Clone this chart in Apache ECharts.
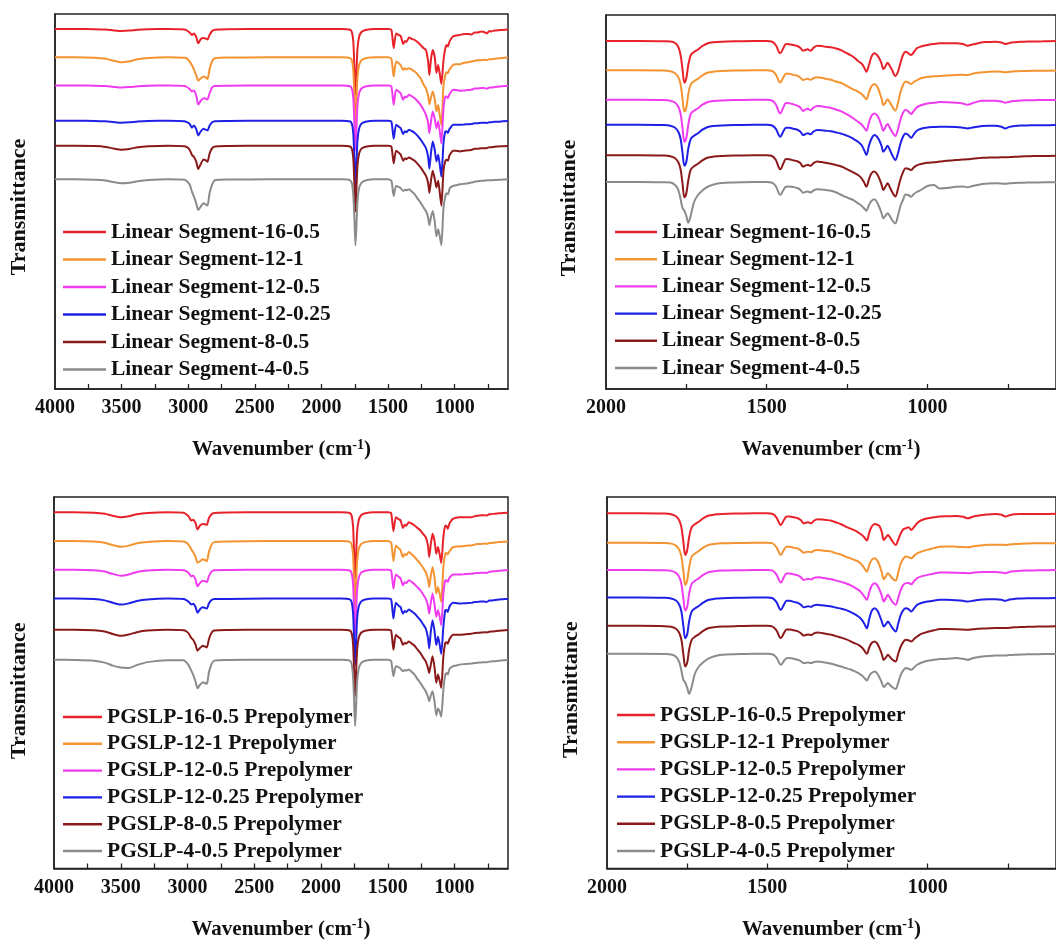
<!DOCTYPE html>
<html>
<head>
<meta charset="utf-8">
<script src="https://cdn.jsdelivr.net/npm/echarts@6/dist/echarts.min.js"></script>
<style>
  html, body { margin: 0; padding: 0; background: #fff; overflow: hidden; }
  #chart { width: 1056px; height: 941px; }
</style>
</head>
<body>
<div id="chart"></div>
<script>
// Wavenumber sampling (cm-1) for the full-range spectra
const WN_FULL = [4000,3850,3700,3620,3560,3500,3440,3380,3300,3150,
  3030,3010,2990,2972,2958,2940,2925,2905,2885,2870,
  2855,2840,2820,2800,2700,2400,2100,1850,1785,1770,
  1760,1752,1745,1738,1730,1718,1700,1670,1600,1500,
  1475,1458,1440,1420,1405,1387,1373,1363,1343,1320,
  1300,1280,1256,1235,1216,1200,1190,1178,1165,1150,
  1137,1124,1112,1100,1084,1070,1060,1051,1040,1033,
  1013,990,962,930,900,875,850,829,800,780,
  758,740,728,700,670,640,600];

// Wavenumber sampling (cm-1) for the 2000-600 fingerprint spectra
const WN_ZOOM = [2000,1900,1820,1800,1785,1775,1768,1762,1756,1750,
  1744,1736,1726,1714,1700,1685,1665,1640,1600,1540,
  1500,1485,1472,1458,1448,1440,1430,1418,1405,1395,
  1387,1380,1373,1363,1355,1343,1330,1317,1300,1287,
  1270,1256,1243,1231,1216,1206,1198,1190,1182,1174,
  1165,1157,1150,1143,1137,1130,1124,1117,1110,1100,
  1092,1084,1076,1068,1060,1051,1042,1033,1020,1000,
  980,962,940,911,890,875,860,845,829,810,
  789,770,758,745,728,710,690,670,640,600];

// Band depth below each trace's baseline (a.u.), linear segments, full range
const LS_16_05_FULL = [0,0,0.2,0.6,1.4,2,1.6,0.8,0.3,0,
  0.5,1.5,3.5,6,4.5,8,14.3,10,9,9.5,
  10.5,6,2,0.7,0.3,0,0,0,0.8,4,
  15,42,66,45,20,8,3,1,0,0,
  1,19,4.5,6,7,15,12,13,8.5,10,
  11,13,16,19,21,32,46,30,21,28,
  44,36,45,55,31,19,16,17.5,13,11,
  7.5,6.5,6,5,5,5.5,3.5,3.5,2.5,3,
  4.3,2,2.5,1.5,1.2,1,0.5];
const LS_12_1_FULL = [0,0,0.5,1.5,3.5,5,4,2,0.7,0,
  0.5,1,4,8,12,18,23.3,21,19.3,20,
  21.7,12,4,1,0.3,0,0,0,0.8,4,
  15,42,66,45,20,8,3,1,0,0,
  1.5,19.3,4.3,6,8,12.7,11,12,11,12.5,
  14.3,17,21,27,31,38,47,40,34.3,42,
  54.3,47.7,58,68,27.7,17.7,15,16,12.5,11,
  7.7,7,7,5.5,5,4.3,3.5,3,3,2.5,
  2.7,2,2,1.5,1,0.7,0.3];
const LS_12_05_FULL = [0,0,0.2,0.6,1.4,2,1.6,0.8,0.3,0,
  0.5,1.5,3.5,6,5,10,19,15,12.7,13,
  14,8,2,0.5,0.3,0,0,0,0.8,4,
  15,42,65,44,20,8,3,1,0,0,
  1,19.3,4.3,6,8,14.3,11,12,9.3,11,
  12.7,15.5,19.3,24,29.3,37,47.7,36,26,33,
  42.7,36,46,58,22.7,11,11,12.7,9,7.7,
  4.3,4.5,5.3,5,4.5,4.3,3,3,2.5,2.5,
  3.3,2,2,1.5,1,0.7,0.3];
const LS_12_025_FULL = [0,0,0.2,0.6,1.4,2,1.6,0.8,0.3,0,
  0.5,1.5,3,7,4.7,8.5,14.7,10.5,8,9,
  9.7,5,1.5,0.5,0.3,0,0,0,0.8,4,
  15,42,66,45,20,8,3,1,0,0,
  1,18,4,6,7.5,13.3,10.5,11.5,9,10.5,
  12.3,15,19,23,27.3,36,48,32,20.7,29,
  40.7,34,44,56,22.3,10.7,10.5,12.3,8.5,7.3,
  4,4,4,3.8,3.5,3.3,2.5,2.5,2,2,
  2.3,1.5,1.5,1,1,0.5,0.3];
const LS_8_05_FULL = [0,0,0.4,1.2,2.8,4,3.2,1.6,0.6,0,
  0.5,1.5,4,9.3,11,16,23.3,18,13.7,14.5,
  16,8,2.5,0.7,0.3,0,0,0,0.8,4,
  15,42,66,45,20,8,3,1,0,0,
  1,17.7,5,7,9,15,12.5,13.5,11.7,13.5,
  15,18,21.7,26,30,37,47,35,25,33,
  41.7,35,47,60,25,15,14,15,10,8.3,
  5,5,5.7,5,4.5,4.3,3,3,2.5,2.5,
  2.3,1.5,1.5,1,0.8,0.5,0.3];
const LS_4_05_FULL = [0,0,0.4,1.2,2.8,4,3.5,2,0.8,0,
  0.5,2,5,12.3,17,24,30.7,27,24,25,
  26.3,14,5,1,0.3,0,0,0,1,5,
  18,42,66,48,22,9,3.5,1.2,0,0,
  1.5,16.7,6.7,7.5,9,11.7,10.5,11,10,12.5,
  15,19,23.3,28,31.7,38,46,38,31.7,42,
  57,50,57,66,28.3,16.7,14,15,10,8.3,
  6.7,6,5,4.5,4,3.3,2.5,2,1.5,1.5,
  1,1,1,0.8,0.5,0.3,0];

// Band depth (a.u.), linear segments, 2000-600 cm-1
const LS_16_05_ZOOM = [0,0,0.3,0.5,2,6,14,28,41.7,37,
  24,14,11,8.5,5,2.5,1.3,0.7,0.3,0,
  0,0.5,4,12.3,7,3,3.2,4,5,7,
  9.7,9,8.3,9.7,7,4.7,5,5.7,6.3,7.3,
  9,11.3,13.5,15.7,20,22.3,25.7,30.7,24,15.7,
  12.3,14,17.3,22.3,28,25,21.7,25,29,35,
  31,22,14,10.7,12,14,11,7.3,5.5,4,
  3,2.3,2.3,2.3,3,4.7,3.5,2.5,1.3,1,
  0.7,1.5,3,2,1.3,0.8,0.6,0.5,0.3,0];
const LS_12_1_ZOOM = [0,0,0.3,1,3,7,14,28,41.3,37,
  24,14,11,8.5,5,2.5,1.3,0.7,0.3,0,
  0,0.5,4,12.3,7,3.5,3.5,4.5,5.5,7.5,
  9.7,9,8.5,9.5,8,7,7.5,8.5,9.5,11,
  12.5,14.7,17,19,21.3,23.5,26,29,22,16,
  13.7,16,21,28,34.7,32,29,32,36,40.3,
  33,22,15,11.3,12,13.7,11.5,10,8,6.5,
  6,5.7,5.2,4.7,4.5,4.7,3.5,2.5,2,1.5,
  1.3,1.5,2,1.5,1,0.8,0.6,0.5,0.5,0.3];
const LS_12_05_ZOOM = [0,0,0.3,1,3,7,14,28,42,38,
  25,14,11,8.5,5,2.5,1.3,0.7,0.3,0,
  0,0.5,4.5,13.7,7.5,3.3,3.5,4.5,6,8,
  11.3,10,9,10.5,8,6.3,6.5,7.3,8.3,9.5,
  11.5,13.7,16,18.5,22,24.5,27.5,31,23,16,
  13.7,15.5,19.5,26,31,27,24.3,28,32,36.3,
  30,20,13,10,11.5,14.3,11,7.7,5.5,3.7,
  3,2.3,2.5,3,3.8,5,3.5,2,1,1,
  1,1.8,3,2,1.3,0.8,0.6,0.5,0.3,0.2];
const LS_12_025_ZOOM = [0,0,0.3,1,3,7,14,28,41,37,
  24,14,11,8.5,5,2.5,1.3,0.7,0.3,0,
  0,0.5,4,12,6.5,3,3,4,5,7,
  10.3,9.5,8.5,9.5,7,5.3,5.5,6,6.5,7.5,
  8.8,10.3,12,14,17,20,24.5,30.3,21,14,
  10.3,12,15.5,21,27,24,21,25,30,35.3,
  29,19,12,8.7,10,13,9.5,6,4,2.7,
  2.3,2,2,2.3,3,3.7,2.8,2,1.2,1,
  1,2,3.7,2.2,1.3,0.8,0.7,0.6,0.5,0.3];
const LS_8_05_ZOOM = [0,0,0.3,1,3,7,14,28,42,38,
  25,14,11,8.5,5,2.5,1.3,0.7,0.3,0,
  0,0.5,4.5,14,8,3.8,4,5,6,8,
  11.3,10.3,9.5,10.5,8,6.3,6.8,7.5,8.5,9.5,
  11,13,15,17,19.7,22.5,26.5,31.3,24,18,
  16.3,18.5,23,29,34.7,31,28,32,36.5,41.3,
  34,24,17,13,13.5,14.7,12,10,8.7,7.5,
  7,6.3,5.5,4.7,4.3,4,3.5,3,2.5,2.3,
  2.2,2,2,1.8,1.5,1.2,1,0.8,0.7,0.5];
const LS_4_05_ZOOM = [0,0,0.3,0.5,3,8,17,26,29,34,
  40.7,33,20,13,8.5,5,2.5,1,0.5,0,
  0,0.5,4,13,8,4.7,4.5,5,6,8,
  10.7,10,9.5,10.5,8.5,7.3,7.5,8,8.7,10,
  12.5,14.7,16.5,18,21.3,23.5,26,28.7,23,19,
  17.3,20,25,31,36.3,33.5,31.3,34,38,41.3,
  34,24,18,12.5,13,14.7,12,10,8,4,
  3,6.5,6,4.7,4.5,5.3,4,3,2,1.5,
  1.3,1.5,1.8,1.3,1,0.8,0.6,0.5,0.3,0.2];

// Band depth (a.u.), prepolymers, full range
const PP_16_05_FULL = [0,0,0.5,1.5,3.5,5,4,2,0.7,0,
  0.5,2,4.5,8.3,7.5,11,17.3,13,11.7,12,
  12.7,6,2,0.7,0.3,0,0,0,0.8,4,
  15,43,66.7,45,20,8,3,1,0,0,
  1,19,5,7,8,15.7,12.5,13.5,10,11.5,
  13.3,15.5,18.3,22,25,33,45,32,21.7,29,
  41.7,35,42,51,25,13.3,14,16.7,12,10,
  6.7,5.5,5,5,5,5,4,3.5,3,3,
  3.3,2,2,1.5,1,0.7,0.5];
const PP_12_1_FULL = [0,0,0.5,1.7,4,5.7,4.5,2.2,0.8,0,
  0.5,1.5,4,8.3,11,16,21.7,20,18.3,19,
  20,11,3.5,1,0.3,0,0,0,0.8,4,
  15,42,66,45,20,8,3,1,0,0,
  1.5,20,4.3,7,9,16,13,14,11,13.5,
  16,19,22.7,27,31,38,46,35,26,37,
  52.7,46,53,61,26,12.7,12,13.3,10.5,9.3,
  6,5.5,5.3,5,4.5,4.3,3.5,3,3,2.5,
  2.7,2,2,1.5,1,0.7,0.3];
const PP_12_05_FULL = [0,0,0.5,1.8,4.2,6,4.8,2.4,0.8,0,
  0.5,1.5,3.5,6.7,5.7,10,16.7,13,11,11.5,
  12.3,6.5,2,0.5,0.3,0,0,0,0.8,4,
  15,42,65.7,45,20,8,3,1,0,0,
  1,19,4.7,7,8.5,15.7,12.5,13.5,10.7,12.5,
  14.7,17.5,20.7,25,29,36,44,33,24,35,
  47.3,40.7,47,55.7,24,10.7,10.5,12.3,8.5,7.3,
  4.7,4.7,4.7,4.5,4.2,4,3.5,3.3,3,3,
  3.3,2,2,1.5,1,0.7,0.3];
const PP_12_025_FULL = [0,0,0.5,1.8,4.2,6,4.8,2.4,0.8,0,
  0.5,1.5,3.5,6,5.3,8.5,14.3,10.5,8.7,9.3,
  10,5,1.5,0.5,0.3,0,0,0,0.8,4,
  15,43,66.7,45,20,8,3,1,0,0,
  1,20,4.3,7,8.5,15,12.5,13.5,11,13,
  15,18,21.7,26,30,39,50,33,21.7,33,
  46.7,38.3,46,55.5,28.3,11.7,11.5,13.3,8.5,6.7,
  4.3,4.5,5,4.7,4.5,4.3,3.5,3.3,3,3,
  3.3,2,2,1.5,1,0.7,0.3];
const PP_8_05_FULL = [0,0,0.5,1.8,4.2,6,4.8,2.4,0.8,0,
  0.5,1.5,4,8.3,10,15,21,18,16,16.8,
  17.7,9.5,3,0.8,0.3,0,0,0,0.8,4,
  15,43,66.7,45,20,8,3,1,0,0,
  1,20,5,7.5,9,15,13,14,11.7,14,
  16,19.5,23.3,28,31.7,38,43.3,35,26.7,38,
  53.3,45,51,58.3,26.7,13.3,12.5,14,10,8.3,
  5,5,5,4.7,4.3,4,3.3,3,2.8,2.5,
  2.7,2,1.8,1.5,1,0.7,0.3];
const PP_4_05_FULL = [0,0.3,1,3,6,8,8.3,5.5,2.5,0.5,
  0.7,2.5,6,11,15,22,28.7,25,22.7,23.5,
  24.3,13,4.5,1,0.3,0,0,0,1,5,
  18,43,66.7,48,22,9,3.5,1.2,0,0,
  1.5,16.7,6.7,7.5,9,11.7,10.5,11,10,12.5,
  15,19,23.3,28,31.7,37,41.7,36,31.7,42,
  56,49,52,57.3,30,15,13.5,15,10,8.3,
  6.7,6,5,4.5,4.2,4,3.3,3,2.8,2.5,
  2.7,2,1.8,1.5,1,0.7,0.3];

// Band depth (a.u.), prepolymers, 2000-600 cm-1
const PP_16_05_ZOOM = [0,0,0.3,1,3,7,14,28,41.7,37,
  24,14,11,8.5,5,2.5,1.3,0.7,0.3,0,
  0,0.5,4,11.7,6.5,3.3,3.2,4,5,7,
  10,9.5,9,10,7.5,6,6.3,6.7,7.5,9,
  11,13.3,15,16.7,19.3,21.5,24,27.3,19,13,
  10.7,11.5,13,19,26.7,24,21.7,24.5,28,31.7,
  26.5,20,16,15,14,16.7,13.5,10,7,5,
  4,3.3,3,2.7,3.5,5,3.5,2.5,1.7,1.2,
  0.7,1.5,3.3,2,1,0.8,0.7,0.7,0.7,0.5];
const PP_12_1_ZOOM = [0,0,0.3,1,3,7,14,28,42.3,38,
  25,14,11,8.5,5,2.5,1.3,0.7,0.3,0,
  0,0.5,4.5,12.3,7,4,4,5,6,8,
  10,9.5,9,9.5,8,7.3,7.8,8.3,9,10.5,
  12,14,15.5,17,19,22,25.5,29,22,17,
  15.7,18,23,30,36.7,33.5,30.7,33,36,38,
  30,20.7,16,14,14.5,15.7,13,10.7,9,7,
  5.5,4,3.8,4,4.3,4.7,3.8,3,2.5,2.2,
  2,2,2.3,1.8,1.3,1,0.8,0.7,0.7,0.5];
const PP_12_05_ZOOM = [0,0,0.3,1,3,7,14,28,40.7,37,
  24,14,11,8.5,5,2.5,1.3,0.7,0.3,0,
  0,0.5,4.5,12.7,7,3.5,3.5,4.5,5.5,7.5,
  10,9.5,9,9.5,8,7.3,7.8,8.5,9.3,10.5,
  12,13.3,15,17,20,23,26.5,30,22,15.5,
  13.3,15.5,20,26,31.7,28,25,28.5,32,35,
  28,20,15,13.3,13,14.3,11,8.3,6.5,5,
  3.5,2.7,2.7,2.8,3,3.3,2.8,2.3,2,2,
  2,2.5,3.3,2,1.3,0.8,0.6,0.5,0.3,0.2];
const PP_12_025_ZOOM = [0,0,0.3,1,3,7,14,28,40.7,37,
  24,14,11,8.5,5,2.5,1.3,0.7,0.3,0,
  0,0.5,4.3,12.3,6.8,3.3,3.3,4.3,5.3,7.3,
  9.7,9.3,8.8,9.3,7.8,7.3,7.8,8.3,9,10,
  11.2,12.3,14,16,19,22,26,30.7,21,13,
  10.7,13,18,24,29,26.5,24,27,30.5,34,
  26,17.3,12.5,10.7,11.5,14,10.5,7.3,5.5,4,
  3,2.3,2.3,2.7,3.3,4,3.3,2.5,2,1.8,
  1.8,2.3,3.3,2,1.3,1,0.8,0.8,0.7,0.5];
const PP_8_05_ZOOM = [0,0,0.3,1,3,7,14,28,40.7,37,
  24,14,11,8.5,5,2.5,1.3,0.7,0.3,0,
  0,0.5,4.3,12.3,7,3.8,3.8,4.5,5.5,7.5,
  9.7,9.2,8.7,9.2,7.5,6.7,7.2,8,9,10.3,
  11.8,13.3,15,17,19,21.5,24.5,28,21.5,17,
  15.7,18,22.5,28.5,34,31.5,29,31.5,34,35.7,
  28,20.7,16,14,14.5,15.7,13,10.7,8,6,
  4.5,3.3,3.3,3.5,3.8,4,3.5,3,2.7,2.5,
  2.3,2.3,2.3,2,1.5,1.2,1,0.8,0.7,0.5];
const PP_4_05_ZOOM = [0,0,0.3,0.8,3,8,17,26,29,34,
  40,33,20,13,8.5,5,2.5,1,0.5,0,
  0,0.5,3.5,11,7,4.5,4.3,5,6,7.5,
  9.3,9,8.7,9.3,8.3,7.7,8.3,9,10,11.3,
  12.8,14.3,15.5,17,19.3,21.5,24,26.7,22,19,
  17.7,20,24,29,33.3,31,29.3,31.5,33.5,35.3,
  29,21,16.5,14.3,15,16,13.5,11,9,7,
  6,5.3,5,4.3,5,6,4.5,3.5,2.7,2.2,
  1.8,1.7,1.7,1.3,1,0.8,0.5,0.4,0.3,0.2];

// Baseline level of each stacked trace (a.u.), top trace first
const BASE_LS_FULL = [360, 331.7, 303.5, 268.3, 243.3, 209.7];
const BASE_LS_ZOOM = [348, 318.7, 289.3, 264.3, 233.7, 207];
const BASE_PP_FULL = [357.7, 328.7, 300, 271, 239.7, 209.7];
const BASE_PP_ZOOM = [355.7, 326.3, 299, 271.3, 243, 215];

const LS_NAMES = ['Linear Segment-16-0.5', 'Linear Segment-12-1', 'Linear Segment-12-0.5',
  'Linear Segment-12-0.25', 'Linear Segment-8-0.5', 'Linear Segment-4-0.5'];
const PP_NAMES = ['PGSLP-16-0.5 Prepolymer', 'PGSLP-12-1 Prepolymer', 'PGSLP-12-0.5 Prepolymer',
  'PGSLP-12-0.25 Prepolymer', 'PGSLP-8-0.5 Prepolymer', 'PGSLP-4-0.5 Prepolymer'];

const FULL_LABELS = [4000, 3500, 3000, 2500, 2000, 1500, 1000];
const FULL_TICKS = [3750, 3500, 3250, 3000, 2750, 2500, 2250, 2000, 1750, 1500, 1250, 1000, 750];
const ZOOM_LABELS = [2000, 1500, 1000];
const ZOOM_TICKS = [1750, 1500, 1250, 1000, 750];

const COLORS = ['#e8222a', '#f39331', '#f03cef', '#1f20e6', '#8a1a1a', '#8b8b8b'];
const FONT = "'Liberation Serif', 'Times New Roman', serif";

const panels = [
  { grid: { left: 55, top: 14, width: 453, height: 375 }, wn: WN_FULL, max: 4000,
    labels: FULL_LABELS, ticks: FULL_TICKS, names: LS_NAMES, base: BASE_LS_FULL,
    dips: [LS_16_05_FULL, LS_12_1_FULL, LS_12_05_FULL, LS_12_025_FULL, LS_8_05_FULL, LS_4_05_FULL],
    legend: { left: 63, top: 219, itemWidth: 43, itemGap: 5.5 }, yGap: 25, yPad: 11, smooth: 0.2 },
  { grid: { left: 606, top: 15, width: 458, height: 374 }, wn: WN_ZOOM, max: 2000,
    labels: ZOOM_LABELS, ticks: ZOOM_TICKS, names: LS_NAMES, base: BASE_LS_ZOOM,
    dips: [LS_16_05_ZOOM, LS_12_1_ZOOM, LS_12_05_ZOOM, LS_12_025_ZOOM, LS_8_05_ZOOM, LS_4_05_ZOOM],
    legend: { left: 615, top: 219, itemWidth: 42, itemGap: 5.2 }, yGap: 25.5, yPad: 12, smooth: 0.35 },
  { grid: { left: 54, top: 497, width: 454, height: 373 }, wn: WN_FULL, max: 4000,
    labels: FULL_LABELS, ticks: FULL_TICKS, names: PP_NAMES, base: BASE_PP_FULL,
    dips: [PP_16_05_FULL, PP_12_1_FULL, PP_12_05_FULL, PP_12_025_FULL, PP_8_05_FULL, PP_4_05_FULL],
    legend: { left: 63, top: 704, itemWidth: 39, itemGap: 4.8 }, yGap: 24, yPad: 16, smooth: 0.2 },
  { grid: { left: 607, top: 497, width: 457, height: 372 }, wn: WN_ZOOM, max: 2000,
    labels: ZOOM_LABELS, ticks: ZOOM_TICKS, names: PP_NAMES, base: BASE_PP_ZOOM,
    dips: [PP_16_05_ZOOM, PP_12_1_ZOOM, PP_12_05_ZOOM, PP_12_025_ZOOM, PP_8_05_ZOOM, PP_4_05_ZOOM],
    legend: { left: 617, top: 702, itemWidth: 38, itemGap: 5.2 }, yGap: 25, yPad: 14, smooth: 0.35 }
];

const option = {
  animation: false,
  backgroundColor: '#ffffff',
  grid: [], xAxis: [], yAxis: [], legend: [], series: []
};

panels.forEach((p, k) => {
  option.grid.push(Object.assign({ show: true, borderColor: '#222', borderWidth: 1.5, backgroundColor: 'transparent' }, p.grid));
  option.xAxis.push({
    type: 'value', gridIndex: k, min: 600, max: p.max, inverse: true,
    axisLine: { show: true, lineStyle: { color: '#222', width: 1.5 } },
    axisTick: { show: true, inside: true, length: 5, customValues: p.ticks, lineStyle: { color: '#222', width: 1.3 } },
    axisLabel: { show: true, customValues: p.labels, margin: 9, color: '#111',
      fontFamily: FONT, fontWeight: 'bold', fontSize: 20, formatter: (v) => String(v) },
    splitLine: { show: false },
    name: '{n|Wavenumber (cm}{s|-1}{n|)}',
    nameLocation: 'middle', nameGap: 49,
    nameTextStyle: {
      color: '#111', fontFamily: FONT, fontWeight: 'bold', fontSize: 21,
      rich: {
        n: { fontFamily: FONT, fontWeight: 'bold', fontSize: 21, lineHeight: 24, color: '#111' },
        s: { fontFamily: FONT, fontWeight: 'bold', fontSize: 14, lineHeight: 14, verticalAlign: 'top', color: '#111' }
      }
    }
  });
  option.yAxis.push({
    type: 'value', gridIndex: k, min: 0, max: p.grid.height,
    axisLine: { show: true, lineStyle: { color: '#222', width: 1.5 } },
    axisTick: { show: false }, axisLabel: { show: false }, splitLine: { show: false },
    name: 'Transmittance', nameLocation: 'middle', nameGap: p.yGap, nameRotate: 90,
    nameTextStyle: { color: '#111', fontFamily: FONT, fontWeight: 'bold', fontSize: 22,
      lineHeight: 22, padding: [0, p.yPad, 0, 0] }
  });
  option.legend.push({
    orient: 'vertical', left: p.legend.left, top: p.legend.top + 2, padding: 0,
    icon: 'rect', itemWidth: p.legend.itemWidth, itemHeight: 2.4, itemGap: p.legend.itemGap,
    selectedMode: false, data: p.names,
    textStyle: { color: '#111', fontFamily: FONT, fontWeight: 'bold', fontSize: 21.5, lineHeight: 22 }
  });
  p.names.forEach((name, i) => {
    option.series.push({
      name: name, type: 'line', xAxisIndex: k, yAxisIndex: k,
      symbol: 'none', showSymbol: false, smooth: p.smooth, clip: true, silent: true,
      color: COLORS[i],
      lineStyle: { color: COLORS[i], width: 2 },
      data: p.wn.map((w, j) => [w, p.base[i] - p.dips[i][j]])
    });
  });
});

const chart = echarts.init(document.getElementById('chart'), null, { renderer: 'canvas' });
chart.setOption(option);
</script>
</body>
</html>
